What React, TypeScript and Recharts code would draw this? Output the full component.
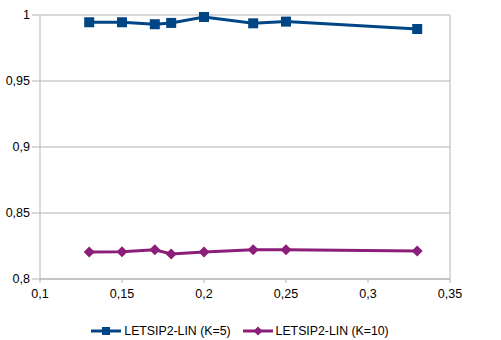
import { LineChart, Line, XAxis, YAxis, CartesianGrid, Legend, ReferenceLine } from "recharts"

const xValues = [0.13, 0.15, 0.17, 0.18, 0.2, 0.23, 0.25, 0.33]
const k5 = [0.9945, 0.9945, 0.993, 0.994, 0.9985, 0.9937, 0.995, 0.9894]
const k10 = [0.8205, 0.8207, 0.8222, 0.819, 0.8205, 0.8222, 0.8222, 0.8212]
const xTicks = [0.1, 0.15, 0.2, 0.25, 0.3, 0.35]
const yTicks = [0.8, 0.85, 0.9, 0.95, 1]

const data = xValues.map((x, i) => ({ x, k5: k5[i], k10: k10[i] }))

const fmt = (v: number) => String(+v.toFixed(2)).replace(".", ",")

const BLUE = "#004586"
const PURPLE = "#8b1e78"
const GRID = "#b3b3b3"

const Diamond = (props: any) => {
  const { cx, cy } = props
  const s = 5.5
  return <path d={`M${cx},${cy - s}L${cx + s},${cy}L${cx},${cy + s}L${cx - s},${cy}Z`} fill={PURPLE} />
}

const Square = (props: any) => {
  const { cx, cy } = props
  return <rect x={cx - 5} y={cy - 5} width={10} height={10} fill={BLUE} />
}

const legendItems = [
  { c: BLUE, n: "LETSIP2-LIN (K=5)", sq: true },
  { c: PURPLE, n: "LETSIP2-LIN (K=10)", sq: false },
]

export default function App() {
  return (
    <div style={{ position: "absolute", left: 0, top: 0, fontFamily: "'Liberation Sans', Arial, sans-serif" }}>
      <LineChart width={501} height={340} data={data} margin={{ top: 15, right: 51, left: 0, bottom: 0 }}>
        <CartesianGrid vertical={false} stroke={GRID} />
        <ReferenceLine x={0.35} stroke={GRID} />
        <XAxis
          dataKey="x"
          type="number"
          domain={[0.1, 0.35]}
          ticks={xTicks}
          tickFormatter={fmt}
          stroke={GRID}
          tickSize={4}
          tickMargin={6}
          height={30}
          tick={{ fill: "#000", fontSize: 12.5 }}
        />
        <YAxis
          type="number"
          domain={[0.8, 1]}
          ticks={yTicks}
          tickFormatter={fmt}
          stroke={GRID}
          tickSize={8}
          tickMargin={2}
          width={40}
          tick={{ fill: "#000", fontSize: 12.5 }}
        />
        <Legend
          verticalAlign="bottom"
          content={() => (
            <div style={{ display: "flex", justifyContent: "center", gap: 12, fontSize: 12.3, color: "#000", paddingTop: 12, height: 19, paddingLeft: 30 }}>
              {legendItems.map((it) => (
                <div key={it.n} style={{ display: "flex", alignItems: "center" }}>
                  <svg width={30} height={12} style={{ marginRight: 3 }}>
                    <line x1={0} y1={6} x2={30} y2={6} stroke={it.c} strokeWidth={3} />
                    {it.sq ? (
                      <rect x={11} y={2} width={8} height={8} fill={it.c} />
                    ) : (
                      <path d="M15,1.5L19.5,6L15,10.5L10.5,6Z" fill={it.c} />
                    )}
                  </svg>
                  <span>{it.n}</span>
                </div>
              ))}
            </div>
          )}
        />
        <Line dataKey="k5" name="LETSIP2-LIN (K=5)" stroke={BLUE} strokeWidth={3} dot={<Square />} isAnimationActive={false} />
        <Line dataKey="k10" name="LETSIP2-LIN (K=10)" stroke={PURPLE} strokeWidth={3} dot={<Diamond />} isAnimationActive={false} />
      </LineChart>
    </div>
  )
}
